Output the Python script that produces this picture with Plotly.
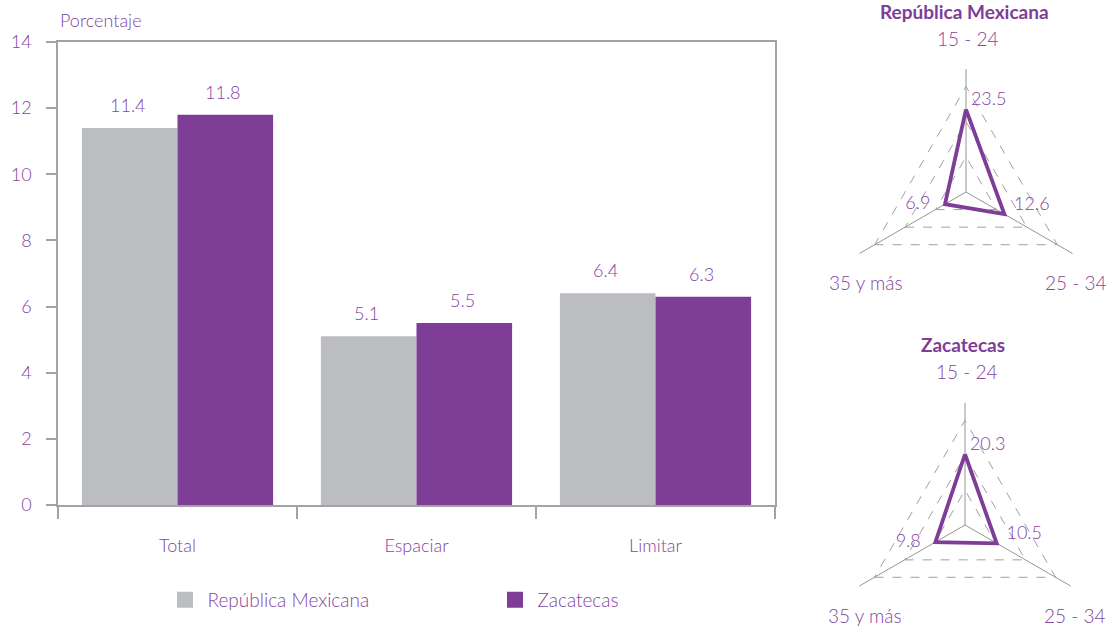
import plotly.graph_objects as go

# ---------------- data ----------------
categories = ["Total", "Espaciar", "Limitar"]
rep_mex = [11.4, 5.1, 6.4]
zacatecas = [11.8, 5.5, 6.3]
series_names = ["República Mexicana", "Zacatecas"]

age_groups = ["15 - 24", "25 - 34", "35 y más"]
radar_rep = [23.5, 12.6, 6.9]
radar_zac = [20.3, 10.5, 9.8]
radar_titles = ["República Mexicana", "Zacatecas"]

y_ticks = [0, 2, 4, 6, 8, 10, 12, 14]

# ---------------- style ----------------
W, H = 1113, 660
PURPLE = "#7E3D97"
TXT = "#8345A0"
GRAY = "#BCBDC0"
LINE = "#A3A3A3"
FONT = "Lato"
FW = 300

def py(p):  # pixel from top -> paper y
    return 1 - p / H

def px(p):
    return p / W

def f(size, color=TXT, weight=FW):
    return dict(family=FONT, size=size, color=color, weight=weight)

fig = go.Figure()

fig.add_trace(go.Bar(x=categories, y=rep_mex, name=series_names[0],
                     marker=dict(color=GRAY, line=dict(width=0)), showlegend=False))
fig.add_trace(go.Bar(x=categories, y=zacatecas, name=series_names[1],
                     marker=dict(color=PURPLE, line=dict(width=0)), showlegend=False))

# legend entries with larger squares
for nm, col in zip(series_names, [GRAY, PURPLE]):
    fig.add_trace(go.Scatter(x=[None], y=[None], mode="markers", name=nm,
                             marker=dict(symbol="square", size=19, color=col)))

# value labels above bars
bar_half = 0.8 / 2 / 2  # fraction of category width
annotations = []
cat_px = (775 - 58) / len(categories)
for vals, sgn in [(rep_mex, -1), (zacatecas, 1)]:
    for c, v in zip(categories, vals):
        annotations.append(dict(x=c, y=v, xref="x", yref="y", text=f"{v:.1f}",
                                showarrow=False, xshift=sgn * cat_px * bar_half - 2,
                                yshift=23, yanchor="middle", font=f(18)))

annotations.append(dict(x=px(58), y=py(20), xref="paper", yref="paper", text="Porcentaje",
                        showarrow=False, xanchor="left", yanchor="middle", font=f(18)))

# ---------------- radar charts ----------------
centers = [(966, 192), (965, 525)]
radii = [123, 122]
label_pos = {
    "15 - 24": (1, -154),
    "25 - 34": (109, 90),
    "35 y más": (-100, 90),
}
title_dy = [-181, -181]
NB = "\u00a0"
pad_text = [lambda s: NB + s, lambda s: NB * 2 + s, lambda s: s + NB * 3]
for i, (vals, ttl) in enumerate(zip([radar_rep, radar_zac], radar_titles)):
    pname = "polar" if i == 0 else "polar2"
    cx, cy = centers[i]
    r = radii[i]
    labels = [p(f"{v:.1f}") for p, v in zip(pad_text, vals)]
    fig.add_trace(go.Scatterpolar(
        r=vals + vals[:1], theta=age_groups + age_groups[:1], subplot=pname,
        mode="lines+text", text=labels + [""],
        textposition=["top right", "top right", "middle left", "top right"],
        textfont=f(18),
        line=dict(color=PURPLE, width=3.8), showlegend=False, cliponaxis=False))
    fig.update_layout(**{pname: dict(
        domain=dict(x=[px(cx - r), px(cx + r)], y=[py(cy + r), py(cy - r)]),
        gridshape="linear", bgcolor="rgba(0,0,0,0)",
        radialaxis=dict(range=[0, 35], tickvals=[10, 20, 30], showticklabels=False,
                        ticks="", showline=False, gridcolor="#A0A0A0", griddash="dash",
                        gridwidth=1.1),
        angularaxis=dict(categoryarray=age_groups, categoryorder="array",
                         direction="clockwise", rotation=90, showticklabels=False,
                         ticks="", showline=False, gridcolor="#959595", gridwidth=1.4),
    )})
    for g in age_groups:
        dx, dy = label_pos[g]
        annotations.append(dict(x=px(cx + dx), y=py(cy + dy), xref="paper", yref="paper",
                                text=g, showarrow=False, xanchor="center", yanchor="middle",
                                font=f(19)))
    annotations.append(dict(x=px(cx - 2), y=py(cy + title_dy[i]), xref="paper", yref="paper",
                            text=f"<b>{ttl}</b>", showarrow=False, xanchor="center",
                            yanchor="middle", font=f(19, PURPLE, 700)))

fig.update_layout(
    width=W, height=H,
    margin=dict(l=0, r=0, t=0, b=0, autoexpand=False),
    paper_bgcolor="white", plot_bgcolor="white",
    barmode="group", bargap=0.2, bargroupgap=0,
    font=dict(family=FONT, color=TXT),
    xaxis=dict(domain=[px(58), px(775)], showline=True, mirror=True, linecolor=LINE,
               linewidth=1.5, ticks="outside", tickson="boundaries", ticklen=12,
               tickcolor=LINE, tickwidth=1.5, showgrid=False, automargin=False,
               tickfont=f(18), ticklabelstandoff=24),
    yaxis=dict(domain=[py(505), py(42)], range=[0, 14], tickvals=y_ticks, showline=True,
               mirror=True, linecolor=LINE, linewidth=1.5, ticks="outside", ticklen=10,
               tickcolor=LINE, tickwidth=1.5, showgrid=False, zeroline=False,
               automargin=False, tickfont=f(18), ticklabelstandoff=11),
    legend=dict(orientation="h", x=px(162.5), y=py(600), xanchor="left", yanchor="middle",
                itemwidth=35, entrywidth=280, font=f(19), bgcolor="rgba(0,0,0,0)"),
    annotations=annotations,
)

fig.write_html("out.html",
               post_script="document.documentElement.style.overflow='hidden';"
                           "document.body.style.overflow='hidden';")
